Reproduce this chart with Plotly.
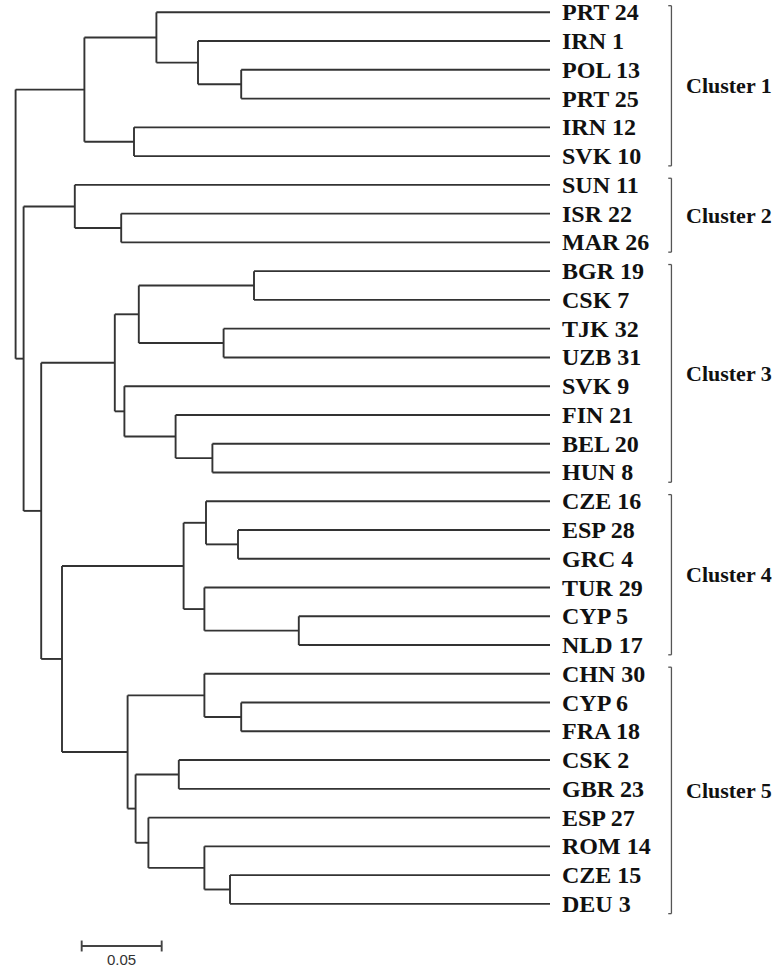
import plotly.graph_objects as go

# ---------------- data ----------------
leaves = ["PRT 24", "IRN 1", "POL 13", "PRT 25", "IRN 12", "SVK 10",
          "SUN 11", "ISR 22", "MAR 26",
          "BGR 19", "CSK 7", "TJK 32", "UZB 31", "SVK 9", "FIN 21", "BEL 20", "HUN 8",
          "CZE 16", "ESP 28", "GRC 4", "TUR 29", "CYP 5", "NLD 17",
          "CHN 30", "CYP 6", "FRA 18", "CSK 2", "GBR 23", "ESP 27", "ROM 14", "CZE 15", "DEU 3"]

# merges: (left child, right child, height of the join)
merge_left = ["POL 13", "IRN 1", "PRT 24", "IRN 12", "n2", "ISR 22", "SUN 11",
              "BGR 19", "TJK 32", "n7", "BEL 20", "FIN 21", "SVK 9", "n9",
              "ESP 28", "CZE 16", "CYP 5", "TUR 29", "n15",
              "CYP 6", "CHN 30", "CSK 2", "CZE 15", "ROM 14", "ESP 27", "n21", "n20",
              "n18", "n13", "n6", "n4"]
merge_right = ["PRT 25", "n0", "n1", "SVK 10", "n3", "MAR 26", "n5",
               "CSK 7", "UZB 31", "n8", "HUN 8", "n10", "n11", "n12",
               "GRC 4", "n14", "NLD 17", "n16", "n17",
               "FRA 18", "n19", "GBR 23", "DEU 3", "n22", "n23", "n24", "n25",
               "n26", "n27", "n28", "n29"]
merge_height = [0.193, 0.220, 0.246, 0.260, 0.291, 0.268, 0.297,
                0.185, 0.204, 0.257, 0.211, 0.234, 0.266, 0.272,
                0.195, 0.215, 0.157, 0.216, 0.229,
                0.193, 0.216, 0.232, 0.200, 0.216, 0.251, 0.259, 0.264,
                0.305, 0.318, 0.329, 0.334]

cluster_names = ["Cluster 1", "Cluster 2", "Cluster 3", "Cluster 4", "Cluster 5"]
cluster_first = ["PRT 24", "SUN 11", "BGR 19", "CZE 16", "CHN 30"]
cluster_last = ["SVK 10", "MAR 26", "HUN 8", "NLD 17", "DEU 3"]

scale_length = 0.05
scale_label = "0.05"

# ---------------- build tree geometry ----------------
pos_y = {name: i for i, name in enumerate(leaves)}
pos_h = {name: 0.0 for name in leaves}
xs, ys = [], []
for k, (a, b, h) in enumerate(zip(merge_left, merge_right, merge_height)):
    ya, yb = pos_y[a], pos_y[b]
    xs += [h, h, None]
    ys += [ya, yb, None]
    xs += [h, pos_h[a], None, h, pos_h[b], None]
    ys += [ya, ya, None, yb, yb, None]
    node = f"n{k}"
    pos_y[node] = (ya + yb) / 2
    pos_h[node] = h

LINE = "#333333"
fig = go.Figure()
fig.add_trace(go.Scatter(x=xs, y=ys, mode="lines",
                         line=dict(color=LINE, width=1.9),
                         hoverinfo="skip", showlegend=False))

# leaf labels
serif = "Liberation Serif, Times New Roman, serif"
for name in leaves:
    fig.add_annotation(x=-0.00625, y=pos_y[name], text=name, showarrow=False,
                       xanchor="left", yanchor="middle",
                       font=dict(family=serif, size=24, color="#111111", weight="bold"))

# cluster brackets
BX = -0.0759
for cname, f, l in zip(cluster_names, cluster_first, cluster_last):
    y0 = pos_y[f] - 0.23
    y1 = pos_y[l] + 0.34
    fig.add_shape(type="line", x0=BX, x1=BX, y0=y0, y1=y1,
                  line=dict(color="#555555", width=1.3))
    fig.add_shape(type="line", x0=BX, x1=BX + 0.002, y0=y0, y1=y0,
                  line=dict(color="#555555", width=1.3))
    fig.add_shape(type="line", x0=BX, x1=BX + 0.002, y0=y1, y1=y1,
                  line=dict(color="#555555", width=1.3))
    fig.add_annotation(x=-0.0838, y=(y0 + y1) / 2, text=cname, showarrow=False,
                       xanchor="left", yanchor="middle",
                       font=dict(family=serif, size=22, color="#111111", weight="bold"))

# scale bar
sx0 = 0.2927
sy = 32.465
fig.add_trace(go.Scatter(x=[sx0, sx0 - scale_length, None, sx0, sx0, None,
                            sx0 - scale_length, sx0 - scale_length],
                         y=[sy, sy, None, sy - 0.19, sy + 0.19, None, sy - 0.19, sy + 0.19],
                         mode="lines", line=dict(color="#444444", width=1.9),
                         hoverinfo="skip", showlegend=False))
fig.add_annotation(x=sx0 - scale_length / 2, y=sy + 0.47, text=scale_label, showarrow=False,
                   xanchor="center", yanchor="middle",
                   font=dict(family="Liberation Sans, Arial, sans-serif", size=15, color="#333333"))

fig.update_layout(
    width=784, height=971,
    margin=dict(l=0, r=0, t=0, b=0),
    paper_bgcolor="white", plot_bgcolor="white",
    xaxis=dict(range=[0.34375, -0.14625], visible=False, fixedrange=True),
    yaxis=dict(range=[33.334, -0.4277], visible=False, fixedrange=True),
)
fig.write_html("out.html", config={"displayModeBar": False},
               post_script="document.body.style.margin='0';")
